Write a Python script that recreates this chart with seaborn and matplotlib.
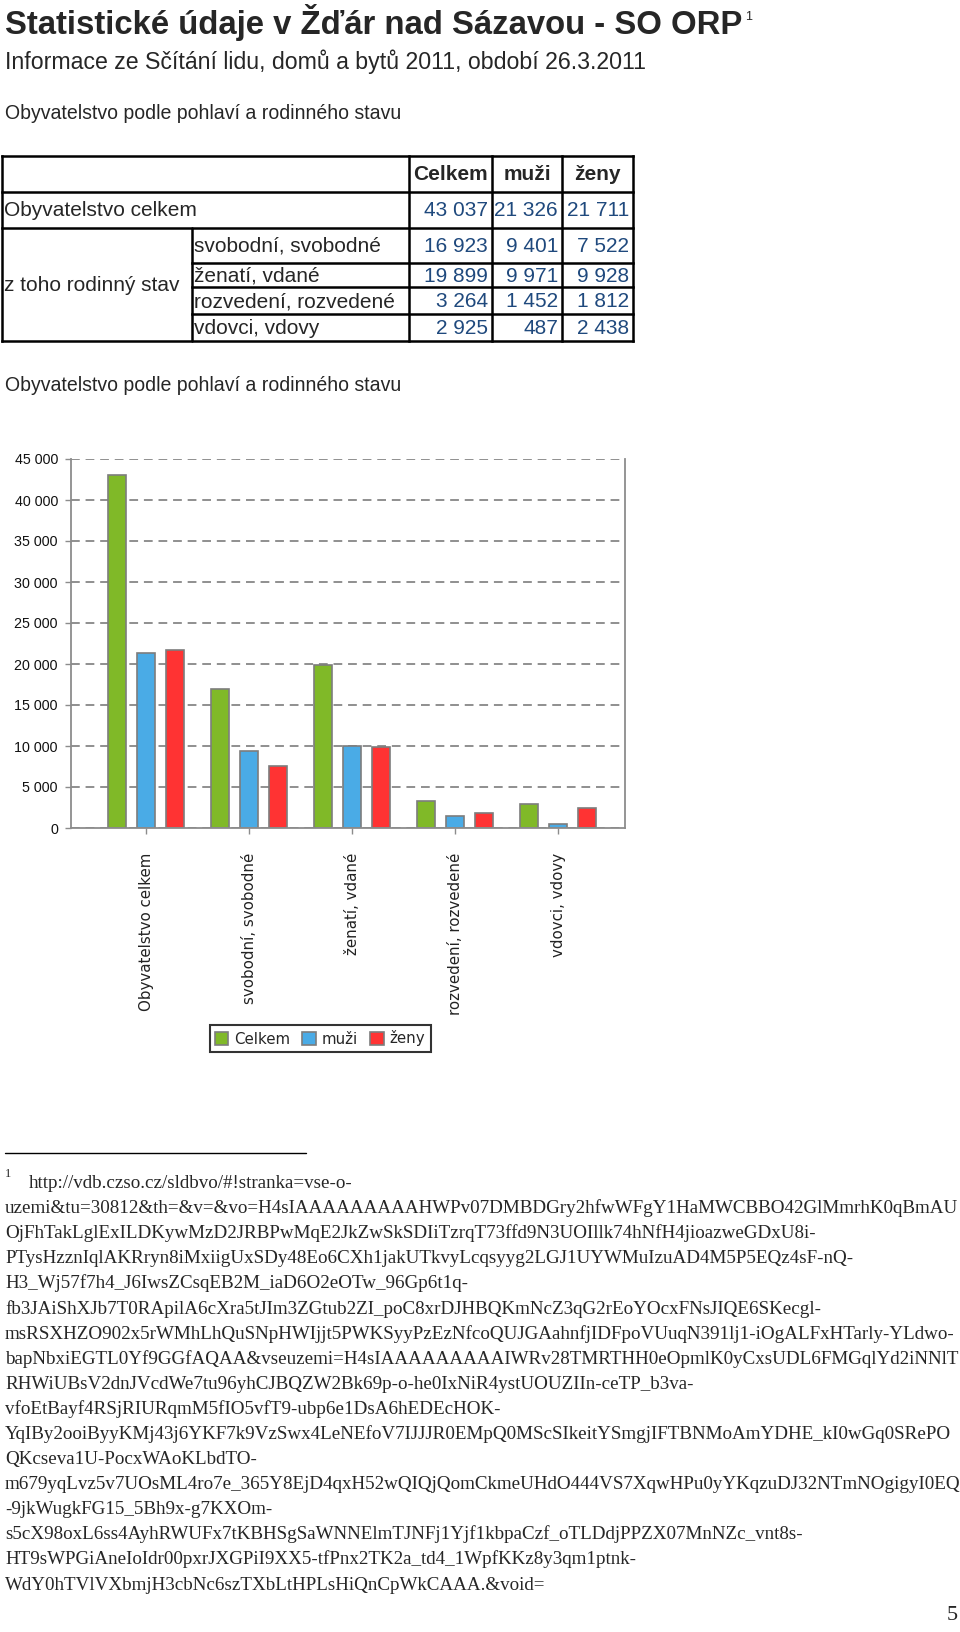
import numpy as np
import pandas as pd
import matplotlib
matplotlib.use("Agg")
import matplotlib.pyplot as plt
from matplotlib.ticker import FuncFormatter, MultipleLocator
import seaborn as sns

# --- data -------------------------------------------------------------
title = "Statistické údaje v Žďár nad Sázavou - SO ORP"
subtitle = "Informace ze Sčítání lidu, domů a bytů 2011, období 26.3.2011"
section = "Obyvatelstvo podle pohlaví a rodinného stavu"

series = ["Celkem", "muži", "ženy"]
categories = ["Obyvatelstvo celkem", "svobodní, svobodné", "ženatí, vdané",
              "rozvedení, rozvedené", "vdovci, vdovy"]
celkem = [43037, 16923, 19899, 3264, 2925]
muzi = [21326, 9401, 9971, 1452, 487]
zeny = [21711, 7522, 9928, 1812, 2438]
group_label = "z toho rodinný stav"
colors = ["#80b928", "#4aabe6", "#ff3333"]

footnote_lines = [
    "http://vdb.czso.cz/sldbvo/#!stranka=vse-o-",
    "uzemi&tu=30812&th=&v=&vo=H4sIAAAAAAAAAHWPv07DMBDGry2hfwWFgY1HaMWCBBO42GlMmrhK0qBmAU",
    "OjFhTakLglExILDKywMzD2JRBPwMqE2JkZwSkSDIiTzrqT73ffd9N3UOIllk74hNfH4jioazweGDxU8i-",
    "PTysHzznIqlAKRryn8iMxiigUxSDy48Eo6CXh1jakUTkvyLcqsyyg2LGJ1UYWMuIzuAD4M5P5EQz4sF-nQ-",
    "H3_Wj57f7h4_J6IwsZCsqEB2M_iaD6O2eOTw_96Gp6t1q-",
    "fb3JAiShXJb7T0RApilA6cXra5tJIm3ZGtub2ZI_poC8xrDJHBQKmNcZ3qG2rEoYOcxFNsJIQE6SKecgl-",
    "msRSXHZO902x5rWMhLhQuSNpHWIjjt5PWKSyyPzEzNfcoQUJGAahnfjIDFpoVUuqN391lj1-iOgALFxHTarly-YLdwo-",
    "bapNbxiEGTL0Yf9GGfAQAA&vseuzemi=H4sIAAAAAAAAAIWRv28TMRTHH0eOpmlK0yCxsUDL6FMGqlYd2iNNlT",
    "RHWiUBsV2dnJVcdWe7tu96yhCJBQZW2Bk69p-o-he0IxNiR4ystUOUZIIn-ceTP_b3va-",
    "vfoEtBayf4RSjRIURqmM5fIO5vfT9-ubp6e1DsA6hEDEcHOK-",
    "YqIBy2ooiByyKMj43j6YKF7k9VzSwx4LeNEfoV7IJJJR0EMpQ0MScSIkeitYSmgjIFTBNMoAmYDHE_kI0wGq0SRePO",
    "QKcseva1U-PocxWAoKLbdTO-",
    "m679yqLvz5v7UOsML4ro7e_365Y8EjD4qxH52wQIQjQomCkmeUHdO444VS7XqwHPu0yYKqzuDJ32NTmNOgigyI0EQ",
    "-9jkWugkFG15_5Bh9x-g7KXOm-",
    "s5cX98oxL6ss4AyhRWUFx7tKBHSgSaWNNElmTJNFj1Yjf1kbpaCzf_oTLDdjPPZX07MnNZc_vnt8s-",
    "HT9sWPGiAneIoIdr00pxrJXGPiI9XX5-tfPnx2TK2a_td4_1WpfKKz8y3qm1ptnk-",
    "WdY0hTVlVXbmjH3cbNc6szTXbLtHPLsHiQnCpWkCAAA.&void=",
]
page_no = "5"


def fmt(v):
    return f"{int(v):,}".replace(",", " ")


sns.set_style("white")
plt.rcParams["font.family"] = ["Liberation Sans", "DejaVu Sans"]

W, H = 960, 1632
fig = plt.figure(figsize=(W / 100, H / 100), dpi=100)

# page layer in pixel coordinates for the text and the table
page = fig.add_axes([0, 0, 1, 1])
page.set_xlim(0, W)
page.set_ylim(H, 0)
page.axis("off")

page.text(5, 34, title, fontsize=23.7, fontweight="bold", va="baseline")
page.text(745, 20, "1", fontsize=9, va="baseline")
page.text(5, 69, subtitle, fontsize=16.7, va="baseline")
page.text(5, 119, section, fontsize=14.05, va="baseline")
page.text(5, 391, section, fontsize=14.05, va="baseline")

# --- table ------------------------------------------------------------
xs = [2, 409, 492, 562, 633]
ys = [156, 192, 228, 263, 287, 314, 341]
split_x = 192
lw = 1.8
blue_txt = "#1f497d"

for i, y in enumerate(ys):
    x0 = split_x if 3 <= i <= 5 else xs[0]
    page.plot([x0, xs[-1]], [y, y], color="black", lw=lw, solid_capstyle="projecting")
for x in xs:
    page.plot([x, x], [ys[0], ys[-1]], color="black", lw=lw, solid_capstyle="projecting")
page.plot([split_x, split_x], [ys[2], ys[-1]], color="black", lw=lw)

tfs = 15
for j, name in enumerate(series):
    page.text((xs[j + 1] + xs[j + 2]) / 2, (ys[0] + ys[1]) / 2 + 1, name,
              fontsize=tfs, fontweight="bold", ha="center", va="center")

table_vals = list(zip(celkem, muzi, zeny))
page.text(4, (ys[1] + ys[2]) / 2 + 1, categories[0], fontsize=tfs, va="center")
page.text(4, (ys[2] + ys[-1]) / 2 + 1, group_label, fontsize=tfs, va="center")
for r, vals in enumerate(table_vals):
    yc = (ys[r + 1] + ys[r + 2]) / 2 + 1
    if r > 0:
        page.text(split_x + 2, yc, categories[r], fontsize=tfs, va="center")
    for j, v in enumerate(vals):
        page.text(xs[j + 2] - 4, yc, fmt(v), fontsize=tfs, ha="right",
                  va="center", color=blue_txt)

# --- bar chart --------------------------------------------------------
df = pd.concat([
    pd.DataFrame({"kategorie": categories, "pohlaví": s, "počet": v})
    for s, v in zip(series, [celkem, muzi, zeny])
])

ax_l, ax_r, ax_t, ax_b = 70.5, 625, 459, 828
ax = fig.add_axes([ax_l / W, 1 - ax_b / H, (ax_r - ax_l) / W, (ax_b - ax_t) / H])
sns.barplot(data=df, x="kategorie", y="počet", hue="pohlaví", hue_order=series,
            order=categories, palette=colors, saturation=1, width=0.84, gap=0.36,
            edgecolor="#7d7d7d", linewidth=1.2, errorbar=None, ax=ax)

ax.set_ylim(0, 45000)
ax.set_xlim(-0.733, 4.65)
ax.yaxis.set_major_locator(MultipleLocator(5000))
ax.yaxis.set_major_formatter(FuncFormatter(lambda v, p: fmt(v)))
ax.grid(axis="y", linestyle=(0, (4.5, 3)), color="#8f8f8f", lw=1.4)
ax.set_axisbelow(True)
for side in ["left", "bottom", "right"]:
    ax.spines[side].set_color("#8c8c8c")
    ax.spines[side].set_linewidth(1.3)
ax.spines["top"].set_visible(False)
ax.set_xlabel("")
ax.set_ylabel("")
ax.tick_params(axis="y", length=4, width=1, color="#8c8c8c", pad=5,
               labelsize=10.3, labelcolor="#111111", left=True)
ax.tick_params(axis="x", length=4, width=1, color="#8c8c8c", pad=13.7, bottom=True)
ax.set_xticks(range(len(categories)))
ax.set_xticklabels(categories, rotation=90, fontsize=10.8,
                   fontfamily="DejaVu Sans", color="#222222")

handles, labels = ax.get_legend_handles_labels()
ax.legend_.remove()
leg = fig.legend(handles, labels, loc="center", bbox_to_anchor=(320 / W, 1 - 1038.5 / H),
                 ncol=3, frameon=True, fancybox=False, edgecolor="black",
                 prop={"family": "DejaVu Sans", "size": 10.8},
                 handlelength=0.9, handleheight=0.9, handletextpad=0.4,
                 columnspacing=0.8, borderpad=0.35)
leg.get_frame().set_linewidth(1.5)

# --- footnote -------------------------------------------------------
page.plot([5, 306], [1153, 1153], color="black", lw=1)
page.text(5, 1177, "1", fontsize=9, family="Liberation Serif", va="baseline")
for i, line in enumerate(footnote_lines):
    page.text(29 if i == 0 else 5, 1188 + i * 25.1, line, fontsize=13.65,
              family="Liberation Serif", va="baseline")
page.text(958, 1620, page_no, fontsize=16, family="Liberation Serif",
          ha="right", va="baseline")

fig.savefig("out.png", dpi=100)
